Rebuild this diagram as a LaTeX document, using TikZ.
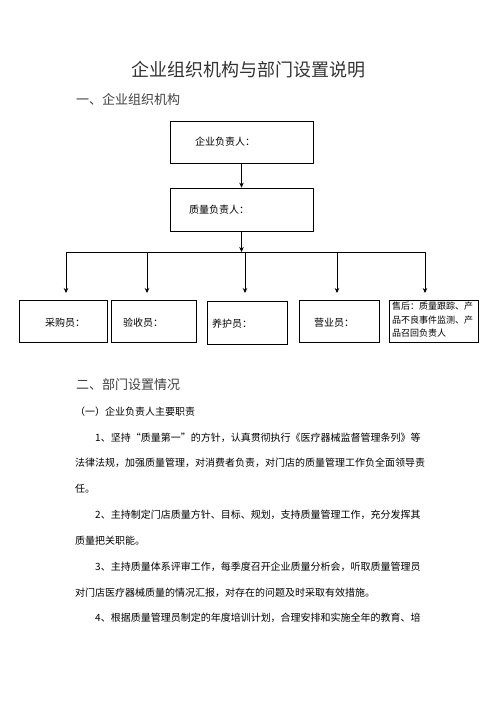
\documentclass[tikz,border=0pt]{standalone}
\usepackage{fontspec}
\setmainfont{Noto Sans CJK SC}
\usetikzlibrary{arrows.meta}

\begin{document}
\begin{tikzpicture}[x=1pt,y=-1pt,
    box/.style={draw,line width=0.7pt,minimum width=#1,minimum height=42pt,inner sep=0pt},
    arr/.style={line width=0.7pt,-{Stealth[length=5pt,width=4.5pt]}},
    txt/.style={font=\fontsize{10}{12}\selectfont,inner sep=0pt,anchor=west},
    para/.style={font=\fontsize{10}{12}\selectfont,inner sep=0pt,anchor=west}]
\useasboundingbox (0,0) rectangle (496,702);
% title and first heading
\node[font=\fontsize{18}{20}\selectfont,text=black!80] (ttl) at (248,70) {企业组织机构与部门设置说明};
\node[font=\fontsize{13}{15}\selectfont,text=black!75,inner sep=0pt,anchor=west] (h1) at (76,100) {一、企业组织机构};
% top boxes
\node[box=143pt] (ceo) at (241.5,142) {};
\node[txt] (ceot) at (195,142) {企业负责人：};
\node[box=143pt,minimum height=43pt] (qm) at (241.5,209.5) {};
\node[txt] (qmt) at (189,210) {质量负责人：};
\draw[arr] (ceo.south) -- (qm.north);
\coordinate (bus) at (241.5,252);
\draw[arr] (qm.south) -- (bus);
% bus and drops
\foreach \n/\x in {a/66,b/147,c/245,d/337,e/425} {
  \coordinate (bus\n) at (\x,252);
  \coordinate (tip\n) at (\x,293);
  \draw[arr] (bus\n) -- (tip\n);
}
\draw[line width=0.7pt] (busa) -- (buse);
% bottom boxes
\node[box=88pt] (buy) at (63,321) {};
\node[txt] (buyt) at (45,323) {采购员：};
\node[box=85pt] (chk) at (153.5,321) {};
\node[txt] (chkt) at (123,323) {验收员：};
\node[box=80pt,minimum height=43pt] (care) at (247,322.5) {};
\node[txt] (caret) at (212,324) {养护员：};
\node[box=80pt] (sale) at (339,321) {};
\node[txt] (salet) at (314,323) {营业员：};
\node[box=89pt] (after) at (433.5,321) {};
\node[inner sep=0pt,anchor=north west,align=left,font=\fontsize{9}{13.5}\selectfont] (aftert) at (392,302) {售后：质量跟踪、产\\品不良事件监测、产\\品召回负责人};
% second part
\node[font=\fontsize{13}{15}\selectfont,text=black!75,inner sep=0pt,anchor=west] (h2) at (76,385) {二、部门设置情况};
\node[para] (h21) at (75,412) {（一）企业负责人主要职责};
\node[para] (p1) at (95,438) {1、坚持“质量第一”的方针，认真贯彻执行《医疗器械监督管理条列》等};
\node[para] (p1b) at (75,463) {法律法规，加强质量管理，对消费者负责，对门店的质量管理工作负全面领导责};
\node[para] (p1c) at (75,489) {任。};
\node[para] (p2) at (95,515) {2、主持制定门店质量方针、目标、规划，支持质量管理工作，充分发挥其};
\node[para] (p2b) at (75,541) {质量把关职能。};
\node[para] (p3) at (95,567) {3、主持质量体系评审工作，每季度召开企业质量分析会，听取质量管理员};
\node[para] (p3b) at (75,593) {对门店医疗器械质量的情况汇报，对存在的问题及时采取有效措施。};
\node[para] (p4) at (95,618) {4、根据质量管理员制定的年度培训计划，合理安排和实施全年的教育、培};
\end{tikzpicture}
\end{document}
